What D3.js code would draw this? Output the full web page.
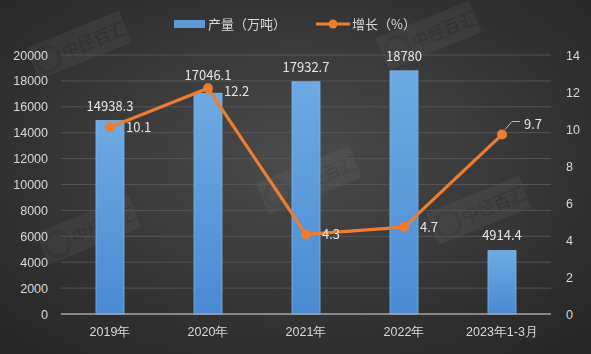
<!DOCTYPE html>
<html>
<head>
<meta charset="utf-8">
<style>
  body { margin: 0; background: #333; }
  svg { display: block; font-family: "Noto Sans CJK SC", "Noto Sans", sans-serif; }
  .tick text { fill: #d9d9d9; font-size: 12.5px; }
  .grid line { stroke: #555; stroke-width: 1px; }
  .label { fill: #e6e6e6; font-size: 13px; }
  .legend { fill: #d9d9d9; font-size: 13px; }
</style>
</head>
<body>
<svg id="chart"></svg>
<script src="https://cdn.jsdelivr.net/npm/d3@7/dist/d3.min.js"></script>
<script>
var categories = ['2019年', '2020年', '2021年', '2022年', '2023年1-3月'];
var output = [14938.3, 17046.1, 17932.7, 18780, 4914.4];
var growth = [10.1, 12.2, 4.3, 4.7, 9.7];
var leftTicks = [0, 2000, 4000, 6000, 8000, 10000, 12000, 14000, 16000, 18000, 20000];
var rightTicks = [0, 2, 4, 6, 8, 10, 12, 14];
var legendNames = ['产量（万吨）', '增长（%）'];

var width = 591, height = 354;
var plotL = 61, plotR = 551, plotT = 55, plotB = 314;

var svg = d3.select('#chart').attr('width', width).attr('height', height);
var defs = svg.append('defs');

var bg = defs.append('radialGradient').attr('id', 'bg')
  .attr('cx', '50%').attr('cy', '45%').attr('r', '70%');
bg.append('stop').attr('offset', '0%').attr('stop-color', '#4b4b4b');
bg.append('stop').attr('offset', '100%').attr('stop-color', '#262626');

var barGrad = defs.append('linearGradient').attr('id', 'bar')
  .attr('x1', 0).attr('y1', 0).attr('x2', 0).attr('y2', 1);
barGrad.append('stop').attr('offset', '0%').attr('stop-color', '#6eaae2');
barGrad.append('stop').attr('offset', '100%').attr('stop-color', '#4a8ad2');

svg.append('rect').attr('width', width).attr('height', height).attr('fill', 'url(#bg)');

// faint watermarks
var marks = [[70, 50], [420, 40], [80, 235], [300, 185], [470, 215]];
var wm = svg.append('g').attr('opacity', 0.06);
marks.forEach(function(m) {
  var g = wm.append('g').attr('transform', 'translate(' + m[0] + ',' + m[1] + ') rotate(-22)');
  g.append('rect').attr('x', -40).attr('y', -18).attr('width', 100).attr('height', 34).attr('fill', '#ddd');
  g.append('circle').attr('cx', -24).attr('cy', 0).attr('r', 12).attr('fill', 'none')
    .attr('stroke', '#4a90d9').attr('stroke-width', 4);
  g.append('text').attr('x', -8).attr('y', 6).attr('fill', '#222').attr('font-size', 17).text('中经百汇');
});

var x = d3.scaleBand().domain(categories).range([plotL, plotR]).paddingInner(0.714).paddingOuter(0.357);
var xc = function(d) { return x(d) + x.bandwidth() / 2; };
var y = d3.scaleLinear().domain([0, 20000]).range([plotB, plotT]);
var y2 = d3.scaleLinear().domain([0, 14]).range([plotB, plotT]);

// grid
svg.append('g').attr('class', 'grid')
  .selectAll('line').data(leftTicks.slice(1)).join('line')
  .attr('x1', plotL).attr('x2', plotR)
  .attr('y1', function(d) { return y(d); }).attr('y2', function(d) { return y(d); });

// axes
var yAxis = svg.append('g').attr('transform', 'translate(' + (plotL - 13) + ',0)')
  .call(d3.axisLeft(y).tickValues(leftTicks).tickFormat(d3.format('d')).tickSize(0).tickPadding(0));
yAxis.select('.domain').remove();

var yAxis2 = svg.append('g').attr('transform', 'translate(' + (plotR + 15) + ',0)')
  .call(d3.axisRight(y2).tickValues(rightTicks).tickSize(0).tickPadding(0));
yAxis2.select('.domain').remove();

// bars
svg.append('g').selectAll('rect').data(output).join('rect')
  .attr('x', function(d, i) { return x(categories[i]); })
  .attr('y', function(d) { return y(d); })
  .attr('width', x.bandwidth())
  .attr('height', function(d) { return plotB - y(d); })
  .attr('fill', 'url(#bar)')
  .attr('stroke', '#7fb4e6').attr('stroke-width', 0.8);

svg.append('g').selectAll('text').data(output).join('text')
  .attr('class', 'label').attr('text-anchor', 'middle')
  .attr('x', function(d, i) { return xc(categories[i]); })
  .attr('y', function(d, i) { return y(d) - (i === 1 ? 13 : 10); })
  .text(function(d) { return d; });

// baseline
svg.append('line').attr('x1', plotL).attr('x2', plotR).attr('y1', plotB).attr('y2', plotB)
  .attr('stroke', '#a6a6a6').attr('stroke-width', 1.5);

var xAxis = svg.append('g').attr('transform', 'translate(0,' + plotB + ')')
  .call(d3.axisBottom(x).tickSize(0).tickPadding(13));
xAxis.select('.domain').remove();

// line
var line = d3.line()
  .x(function(d, i) { return xc(categories[i]); })
  .y(function(d) { return y2(d); });

svg.append('path').datum(growth).attr('d', line)
  .attr('fill', 'none').attr('stroke', '#ed7d31').attr('stroke-width', 3.2)
  .attr('stroke-linejoin', 'round');

svg.append('g').selectAll('circle').data(growth).join('circle')
  .attr('cx', function(d, i) { return xc(categories[i]); })
  .attr('cy', function(d) { return y2(d); })
  .attr('r', 5).attr('fill', '#ed7d31');

svg.append('g').selectAll('text').data(growth).join('text')
  .attr('class', 'label')
  .attr('x', function(d, i) { return xc(categories[i]) + (i === 4 ? 22 : 16); })
  .attr('y', function(d, i) { return y2(d) + (i === 4 ? -6 : (i === 1 ? 8 : 5)); })
  .text(function(d) { return d.toFixed(1); });

// leader line for last label
var lx = xc(categories[4]), ly = y2(growth[4]);
svg.append('path')
  .attr('d', 'M' + (lx + 3) + ',' + (ly - 5) + 'L' + (lx + 10) + ',' + (ly - 13) + 'L' + (lx + 18) + ',' + (ly - 13))
  .attr('fill', 'none').attr('stroke', '#bfbfbf').attr('stroke-width', 1);

// legend
var lg = svg.append('g');
lg.append('rect').attr('x', 174).attr('y', 20).attr('width', 31).attr('height', 8).attr('fill', '#5b9bd5');
lg.append('text').attr('class', 'legend').attr('x', 208).attr('y', 29).text(legendNames[0]);
lg.append('line').attr('x1', 316).attr('x2', 350).attr('y1', 24).attr('y2', 24)
  .attr('stroke', '#ed7d31').attr('stroke-width', 3.2);
lg.append('circle').attr('cx', 333).attr('cy', 24).attr('r', 4.5).attr('fill', '#ed7d31');
lg.append('text').attr('class', 'legend').attr('x', 352).attr('y', 29).text(legendNames[1]);
</script>
</body>
</html>
